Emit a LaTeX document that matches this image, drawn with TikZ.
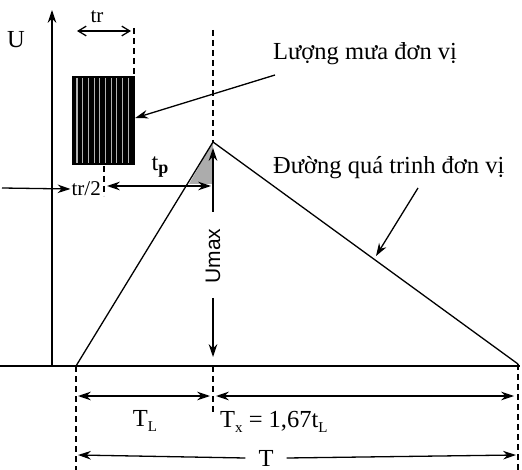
\documentclass[tikz,border=0pt]{standalone}
\usepackage{fontspec}
\setmainfont{Liberation Serif}
\newfontfamily\umaxfont{Liberation Sans}
\usetikzlibrary{arrows.meta,positioning}

\begin{document}
\begin{tikzpicture}[x=1pt, y=-1pt, every node/.style={font=\fontsize{24.5}{27}\selectfont, inner sep=1pt},
  arr/.style={-{Stealth[length=4.5mm, width=3mm]}, line width=1.3pt},
  dim/.style={{Stealth[length=4.5mm, width=3mm]}-{Stealth[length=4.5mm, width=3mm]}, line width=1.3pt},
  barb/.style={{Straight Barb[length=2.8mm, width=3.4mm]}-{Straight Barb[length=2.8mm, width=3.4mm]}, line width=1.3pt},
  guide/.style={line width=1.3pt, dash pattern=on 6pt off 4pt},
  small/.style={font=\fontsize{21}{24}\selectfont}]
\useasboundingbox (0,0) rectangle (522,470);
% axes
\coordinate (ybot) at (52,366); \coordinate (ytop) at (52,10);
\coordinate (xl) at (0,366); \coordinate (xr) at (520,366);
\draw[arr] (ybot) -- (ytop);
\draw[line width=1.3pt] (xl) -- (xr);
\node (U) at (16,40) {U};
% unit hydrograph
\coordinate (start) at (76,366); \coordinate (peak) at (213,142); \coordinate (end) at (518,364);
\fill[gray!65] (peak) -- (189,184) -- (213,184) -- cycle;
\draw[line width=1.3pt] (start) -- (peak) -- (end);
% unit rainfall
\node[fill=black, minimum width=63, minimum height=89, inner sep=0pt] (rain) at (103.5,120.5) {};
\foreach \x in {77,82.7,...,132} \draw[white!70!black, line width=1.1pt] (\x,78) -- (\x,163);
\coordinate (trl) at (77,31); \coordinate (trr) at (131,31);
\draw[barb] (trl) -- (trr);
\node[small] (tr) at (97,17) {tr};
\draw[guide] (134,28) -- (134,76);
\draw[guide] (104,166) -- (104,196);
% tp and tr/2
\node[small, anchor=east] (half) at (102,189) {tr/2};
\coordinate (inl) at (2,188);
\draw[arr] (inl) -- (half.west);
\coordinate (tpl) at (107,186); \coordinate (tpr) at (211,186);
\draw[dim] (tpl) -- (tpr);
\node (tp) at (160,167) {t\raisebox{-0.35ex}{\fontsize{18}{20}\selectfont\bfseries p}};
% peak
\draw[guide] (213,30) -- (peak);
\node[font=\umaxfont\fontsize{21}{24}\selectfont, rotate=90] (umax) at (213,256) {Umax};
\coordinate (upb) at (213,212); \coordinate (upt) at (213,148);
\coordinate (dnt) at (213,298); \coordinate (dnb) at (213,357);
\draw[arr] (upb) -- (upt);
\draw[arr] (dnt) -- (dnb);
% labels with pointers
\node[anchor=west] (rainlbl) at (272,54) {Lượng mưa đơn vị};
\coordinate (rp) at (275,75);
\draw[arr] (rp) -- (rain.east |- 0,118);
\node[anchor=west] (uhlbl) at (272,168) {Đường quá trinh đơn vị};
\coordinate (up) at (418,188); \coordinate (ue) at (376,256);
\draw[arr] (up) -- (ue);
% time base
\draw[guide] (start) -- (76,470);
\draw[guide] (213,366) -- (213,412);
\draw[guide] (end) -- (518,470);
\coordinate (tla) at (78,396); \coordinate (tlb) at (210,396);
\coordinate (txa) at (216,396); \coordinate (txb) at (514,396);
\draw[dim] (tla) -- (tlb);
\draw[dim] (txa) -- (txb);
\node (TL) at (145,421) {T\raisebox{-0.4ex}{\fontsize{15}{17}\selectfont L}};
\node[anchor=west] (Tx) at (219,422) {T\raisebox{-0.4ex}{\fontsize{15}{17}\selectfont x} = 1,67t\raisebox{-0.4ex}{\fontsize{15}{17}\selectfont L}};
\node (T) at (266,458) {T};
\coordinate (ta) at (78,455); \coordinate (tb) at (516,455);
\draw[arr] (T.west) ++(-12,0) -- (ta);
\draw[arr] (T.east) ++(12,0) -- (tb);
\end{tikzpicture}
\end{document}
